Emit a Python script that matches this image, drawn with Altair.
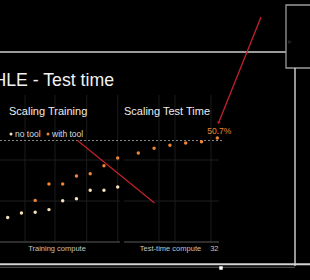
import altair as alt
import pandas as pd

# ---- data ----
train_step = [1, 2, 3, 4, 5, 6, 7, 8, 9]
no_tool = [12.0, 14.1, 14.5, 15.8, 20.1, 21.1, 25.2, 25.2, 26.8]
tool_step = [3, 4, 5, 6, 7, 8, 9]
with_tool = [20.3, 28.3, 28.3, 32.2, 33.3, 37.2, 41.0]
tt_compute = [1, 2, 4, 8, 16, 32]
tt_score = [43.4, 45.7, 47.2, 48.3, 48.9, 50.7]
ref_level = [49.5]
grid_levels = [20, 40]
legend_labels = ["no tool", "with tool"]
panel_titles = ["Scaling Training", "Scaling Test Time"]
axis_titles = ["Training compute", "Test-time compute"]
tt_tick = [32]
title_text = "HLE - Test time"

CREAM = "#f6e0ba"
ORANGE = "#ee8436"
RED = "#c4212b"
FONT = "Liberation Sans"

one = pd.DataFrame({"k": [0]})
ysc = alt.Scale(domain=[0, 100], range=[242, 37])
xl = alt.Scale(domain=[1, 9], range=[7.7, 117.7])
xr = alt.Scale(type="log", base=2, domain=[1, 32], range=[138.3, 217.3])

layers = []

def rule(x, x2, y, y2, color, w=1.0, dash=None):
    kw = dict(color=color, strokeWidth=w)
    if dash:
        kw["strokeDash"] = dash
    return alt.Chart(one).mark_rule(**kw).encode(
        x=alt.value(x), x2=alt.value(x2), y=alt.value(y), y2=alt.value(y2))

def text(t, x, y, size, color, align="left", baseline="middle", weight="normal"):
    return alt.Chart(one).mark_text(
        text=t, fontSize=size, color=color, align=align, baseline=baseline,
        font=FONT, fontWeight=weight).encode(x=alt.value(x), y=alt.value(y))

# faint vertical grid lines
for gx in [25, 55, 86.7, 117.7]:
    layers.append(rule(gx, gx, 95, 242, "#1b1b1b"))
for gx in [159, 175, 211]:
    layers.append(rule(gx, gx, 95, 242, "#1b1b1b"))

# faint horizontal grid lines (data levels)
grid_df = pd.DataFrame({"v": grid_levels})
layers.append(alt.Chart(grid_df).mark_rule(color="#1e1e1e", strokeWidth=1).encode(
    y=alt.Y("v:Q", scale=ysc, axis=None), x=alt.value(0), x2=alt.value(120)))
layers.append(alt.Chart(grid_df).mark_rule(color="#1e1e1e", strokeWidth=1).encode(
    y=alt.Y("v:Q", scale=ysc, axis=None), x=alt.value(124), x2=alt.value(219)))

# dashed reference line
layers.append(alt.Chart(pd.DataFrame({"v": ref_level})).mark_rule(
    color="#8a8a8a", strokeWidth=1, strokeDash=[2, 2]).encode(
    y=alt.Y("v:Q", scale=ysc, axis=None), x=alt.value(0), x2=alt.value(223)))

# axis baselines
layers.append(rule(0, 120, 242, 242, "#5a5a5a", 1))
layers.append(rule(124, 219, 242, 242, "#5a5a5a", 1))

# points
df_no = pd.DataFrame({"s": train_step, "v": no_tool})
df_wt = pd.DataFrame({"s": tool_step, "v": with_tool})
df_tt = pd.DataFrame({"c": tt_compute, "v": tt_score})
layers.append(alt.Chart(df_no).mark_circle(size=12, color=CREAM, opacity=1).encode(
    x=alt.X("s:Q", scale=xl, axis=None), y=alt.Y("v:Q", scale=ysc, axis=None)))
layers.append(alt.Chart(df_wt).mark_circle(size=12, color=ORANGE, opacity=1).encode(
    x=alt.X("s:Q", scale=xl, axis=None), y=alt.Y("v:Q", scale=ysc, axis=None)))
layers.append(alt.Chart(df_tt).mark_circle(size=12, color=ORANGE, opacity=1).encode(
    x=alt.X("c:Q", scale=xr, axis=None), y=alt.Y("v:Q", scale=ysc, axis=None)))

# label of last test-time point
df_last = pd.DataFrame({"c": tt_compute[-1:], "v": tt_score[-1:],
                        "lab": [f"{tt_score[-1]:.1f}%"]})
layers.append(alt.Chart(df_last).mark_text(
    color=ORANGE, fontSize=8.5, font=FONT, dx=2, dy=-7.5).encode(
    x=alt.X("c:Q", scale=xr, axis=None), y=alt.Y("v:Q", scale=ysc, axis=None),
    text="lab:N"))

# tick label 32
layers.append(alt.Chart(pd.DataFrame({"c": tt_tick})).mark_text(
    color="#c4c4c4", fontSize=7.5, font=FONT, dx=-3, baseline="middle").encode(
    x=alt.X("c:Q", scale=xr, axis=None), y=alt.value(249), text="c:N"))

# titles
layers.append(text(title_text, 114, 86, 17.7, "#f2f2f2", align="right", baseline="alphabetic"))
layers.append(text(panel_titles[0], 9, 115, 11, "#ededed", baseline="alphabetic"))
layers.append(text(panel_titles[1], 124, 115, 11, "#ededed", baseline="alphabetic"))
layers.append(text(axis_titles[0], 57, 249, 7.5, "#c4c4c4", align="center"))
layers.append(text(axis_titles[1], 170.5, 249, 7.5, "#c4c4c4", align="center"))

# legend
layers.append(alt.Chart(one).mark_circle(size=9, color=CREAM, opacity=1).encode(
    x=alt.value(11), y=alt.value(134)))
layers.append(alt.Chart(one).mark_circle(size=9, color=ORANGE, opacity=1).encode(
    x=alt.value(48), y=alt.value(134)))
layers.append(text(legend_labels[0], 15, 134, 8.5, "#dcdcdc"))
layers.append(text(legend_labels[1], 52, 134, 8.5, "#dcdcdc"))

# frame / overlay lines
layers.append(rule(0, 286, 52, 52, "#cfcfcf", 1.5))
layers.append(alt.Chart(one).mark_rect(fill="black", stroke="#9a9a9a", strokeWidth=1.3).encode(
    x=alt.value(286), x2=alt.value(320), y=alt.value(5), y2=alt.value(68)))
layers.append(alt.Chart(one).mark_point(shape="triangle-right", filled=True, color="#333333", size=18).encode(
    x=alt.value(290), y=alt.value(42)))
layers.append(rule(295, 295, 68, 266, "#c8c8c8", 1.5))
layers.append(rule(0, 310, 264.3, 264.3, "#d2d2d2", 2))
layers.append(rule(0, 295, 267.3, 267.3, "#555555", 1))
layers.append(alt.Chart(one).mark_square(size=12, color="white", opacity=1).encode(
    x=alt.value(221), y=alt.value(268)))

# red annotation strokes
layers.append(rule(261, 218.5, 17, 123, RED, 1.3))
layers.append(alt.Chart(one).mark_point(shape="triangle-up", filled=True, color=RED, size=16, angle=202).encode(
    x=alt.value(218.5), y=alt.value(123)))
layers.append(rule(77.5, 154.5, 140.5, 203, RED, 1.2))

chart = alt.layer(*layers).resolve_scale(x="independent").properties(
    width=310, height=280, padding=0,
    autosize=alt.AutoSizeParams(type="none"),
).configure(background="black").configure_view(strokeWidth=0)

chart.save("out.html", embed_options={"renderer": "svg", "actions": False})
